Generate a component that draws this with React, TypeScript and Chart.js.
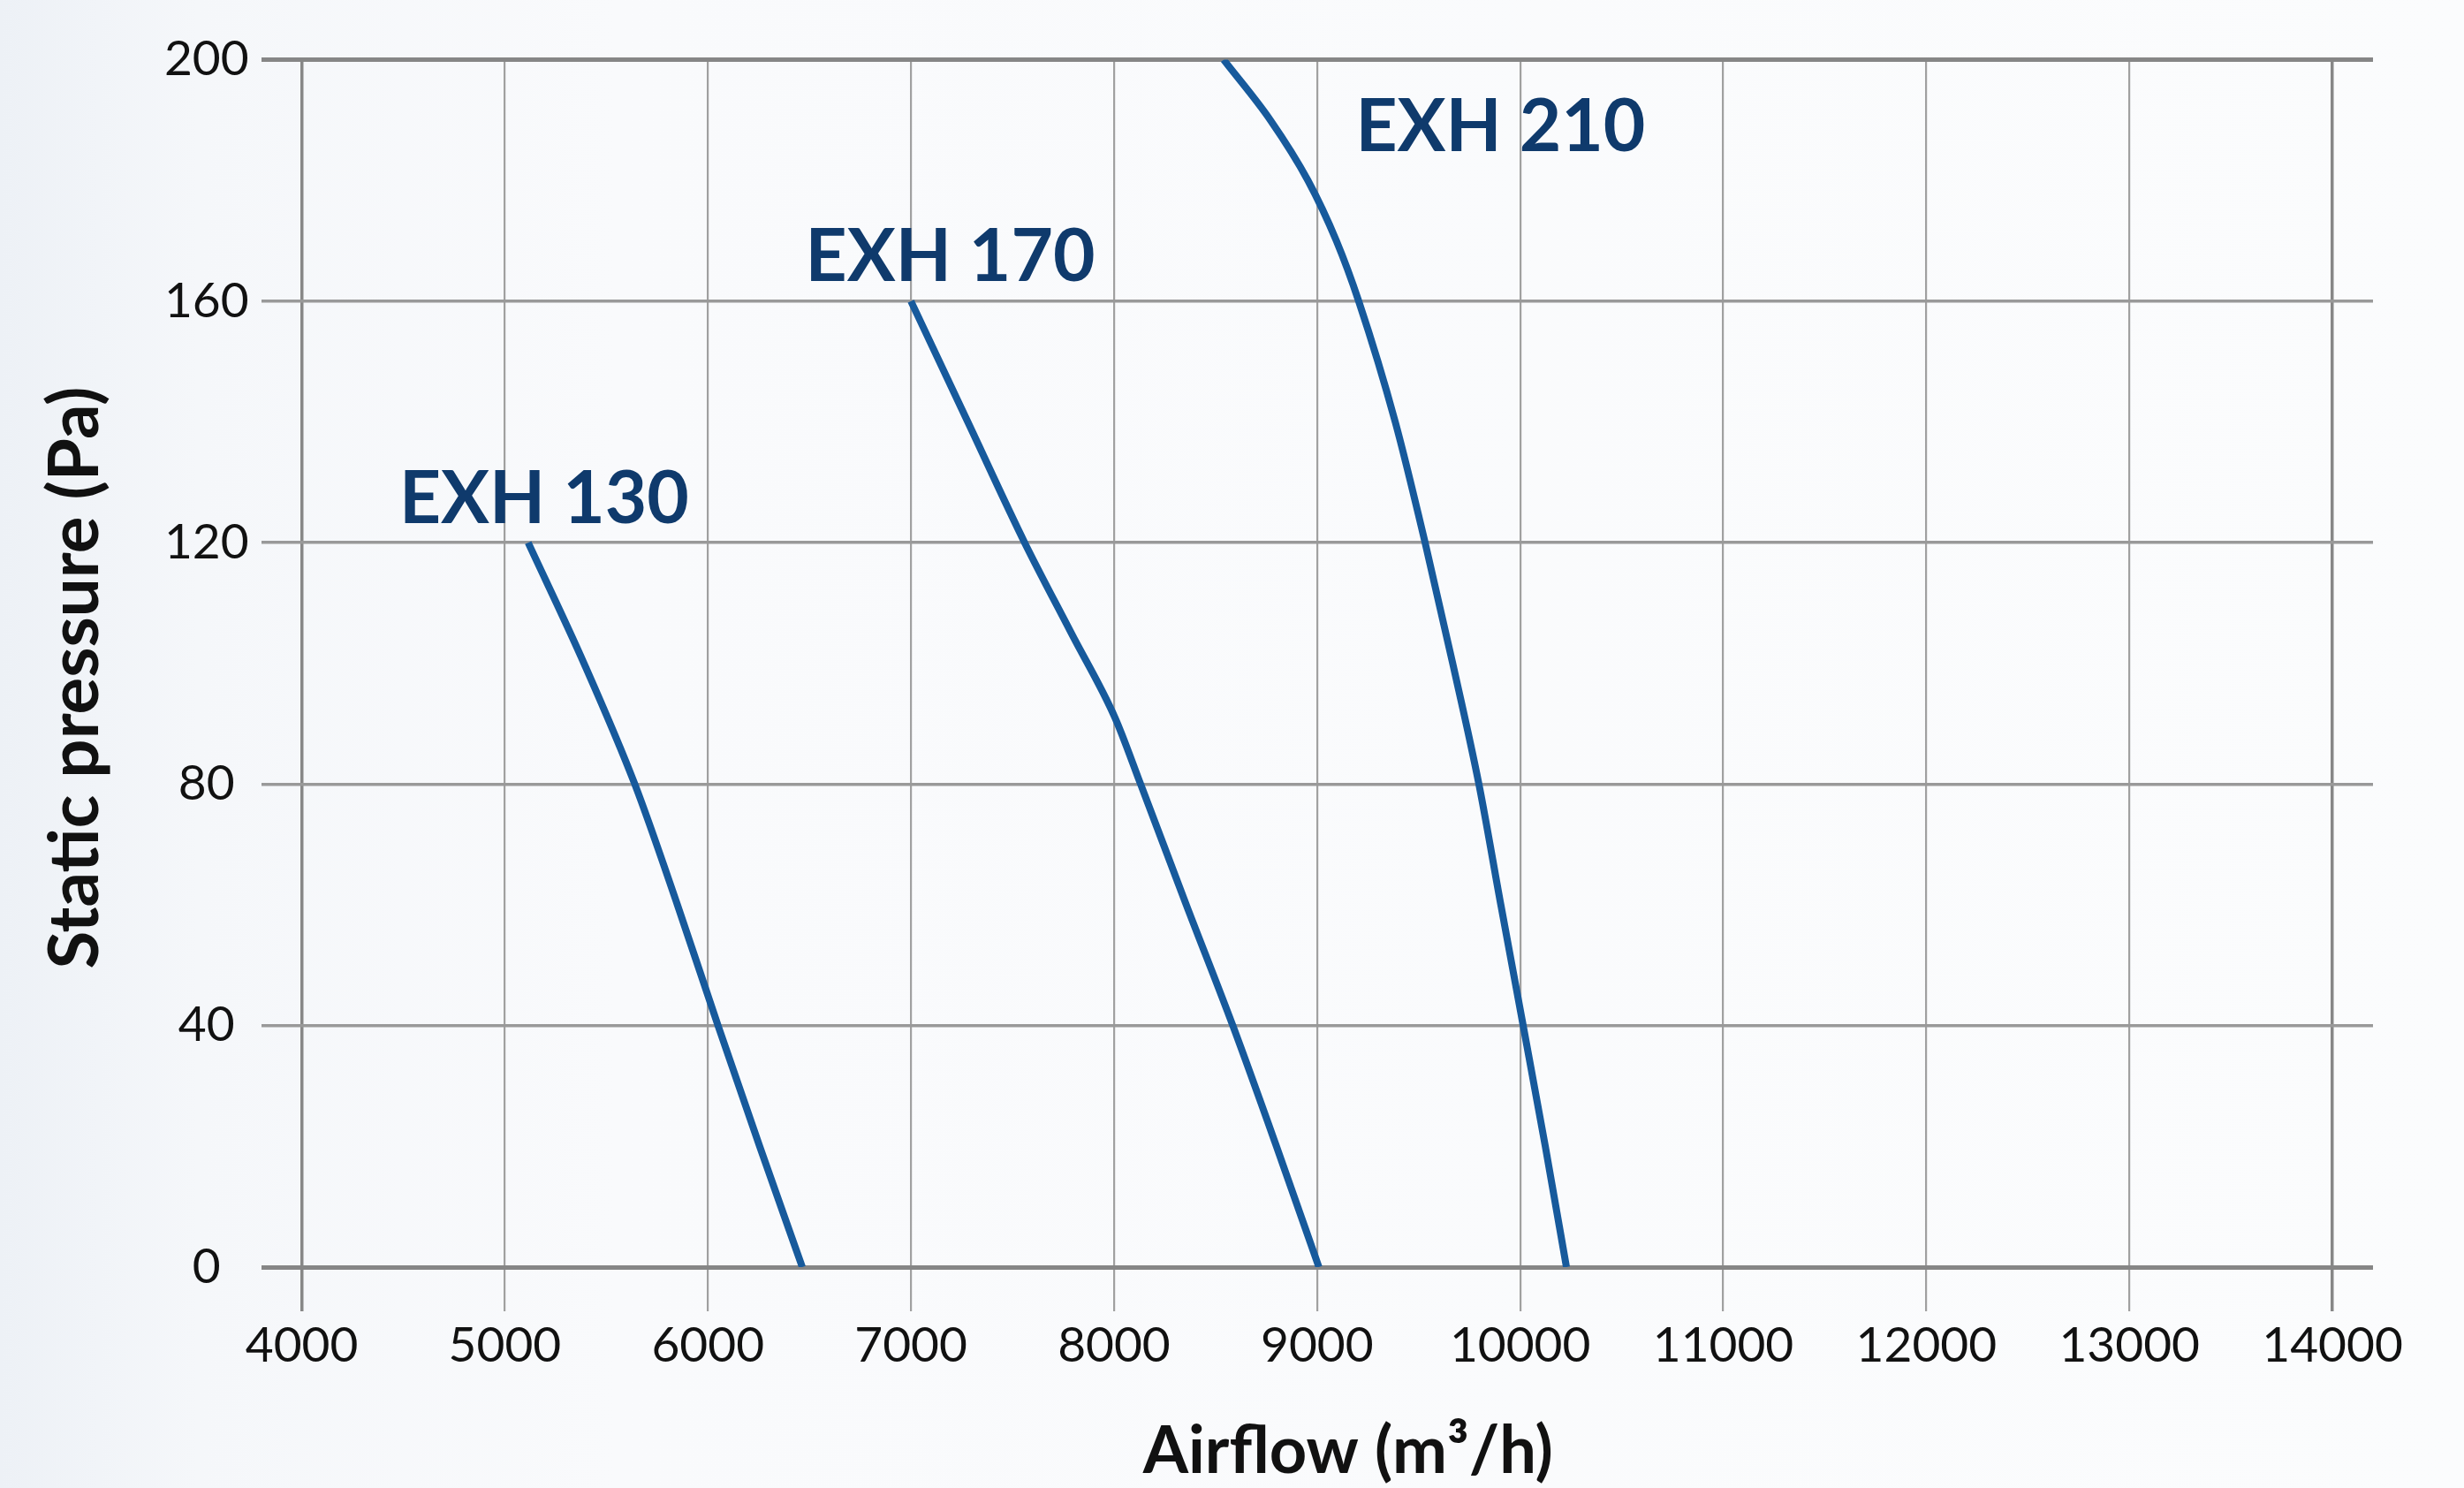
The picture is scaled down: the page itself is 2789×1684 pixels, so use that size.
import React, { useEffect, useRef } from "react";
import { Chart, registerables } from "chart.js";

Chart.register(...registerables);

// ---- data ----
const seriesNames = ["EXH 130", "EXH 170", "EXH 210"];

const exh130Flow = [5115, 5390, 5640, 5850, 6050, 6255, 6465];
const exh130Pressure = [120, 100, 80, 60, 40, 20, 0];

const exh170Flow = [7000, 7280, 7560, 7790, 8005, 8131, 8356, 8585, 8800, 9009];
const exh170Pressure = [160, 140, 120, 105, 91, 80, 60, 40, 20, 0];

const exh210Flow = [8540, 8770, 8955, 9095, 9205, 9385, 9532, 9668, 9797, 9905, 10015, 10124, 10228];
const exh210Pressure = [200, 190, 180, 170, 160, 140, 120, 100, 80, 60, 40, 20, 0];

const xTickValues = [4000, 5000, 6000, 7000, 8000, 9000, 10000, 11000, 12000, 13000, 14000];
const yTickValues = [0, 40, 80, 120, 160, 200];

// label anchors (left edge / baseline) in data units
const labelFlow = [4480, 6480, 9190];
const labelPressure = [123.3, 163.3, 184.9];

const xTitle = "Airflow (m³/h)";
const yTitle = "Static pressure (Pa)";

const W = 2789;
const H = 1684;

const LINE_BLUE = "#175a9c";
const LABEL_NAVY = "#0f3a6c";

function pts(xs: number[], ys: number[]) {
  return xs.map((x, i) => ({ x, y: ys[i] }));
}

export default function App() {
  const canvasRef = useRef<HTMLCanvasElement | null>(null);

  useEffect(() => {
    let chart: Chart | null = null;
    let cancelled = false;

    const labelsPlugin = {
      id: "curveLabels",
      afterDatasetsDraw(c: any) {
        const { ctx, scales } = c;
        ctx.save();
        ctx.fillStyle = LABEL_NAVY;
        ctx.font = "bold 82px Lato";
        ctx.textAlign = "left";
        ctx.textBaseline = "alphabetic";
        seriesNames.forEach((name, i) => {
          const px = scales.x.getPixelForValue(labelFlow[i]);
          const py = scales.y.getPixelForValue(labelPressure[i]);
          ctx.fillText(name, px, py);
        });
        ctx.restore();
      },
      afterDraw(c: any) {
        const { ctx, chartArea } = c;
        ctx.save();
        ctx.fillStyle = "#111111";
        ctx.textAlign = "center";
        ctx.textBaseline = "alphabetic";
        // x title
        ctx.font = "bold 74px Lato";
        const cx = (chartArea.left + chartArea.right) / 2 + 35;
        ctx.fillText(xTitle, cx, 1667);
        // y title
        ctx.font = "bold 78px Lato";
        ctx.translate(111, 767);
        ctx.rotate(-Math.PI / 2);
        ctx.fillText(yTitle, 0, 0);
        ctx.restore();
      },
    };

    const create = () => {
      if (cancelled || !canvasRef.current) return;
      chart = new Chart(canvasRef.current, {
        type: "line",
        data: {
          datasets: [
            { label: seriesNames[0], data: pts(exh130Flow, exh130Pressure) },
            { label: seriesNames[1], data: pts(exh170Flow, exh170Pressure) },
            { label: seriesNames[2], data: pts(exh210Flow, exh210Pressure) },
          ].map((d) => ({
            ...d,
            borderColor: LINE_BLUE,
            borderWidth: 8,
            pointRadius: 0,
            fill: false,
            cubicInterpolationMode: "monotone" as const,
            borderCapStyle: "butt" as const,
            borderJoinStyle: "round" as const,
          })),
        },
        options: {
          animation: false,
          responsive: false,
          devicePixelRatio: 1,
          layout: { padding: { top: 67.6, right: 103, left: 0, bottom: 0 } },
          plugins: {
            legend: { display: false },
            tooltip: { enabled: false },
            title: { display: false },
          },
          scales: {
            x: {
              type: "linear",
              min: 3800,
              max: 14200,
              afterBuildTicks: (scale: any) => {
                scale.ticks = xTickValues.map((v) => ({ value: v }));
              },
              afterFit: (scale: any) => {
                scale.height = 250;
              },
              border: { display: false },
              grid: {
                drawTicks: true,
                tickLength: 50,
                color: (ctx: any) =>
                  ctx.tick && (ctx.tick.value === 4000 || ctx.tick.value === 14000) ? "#878787" : "#a0a0a0",
                lineWidth: (ctx: any) =>
                  ctx.tick && (ctx.tick.value === 4000 || ctx.tick.value === 14000) ? 3.5 : 2.2,
              },
              ticks: {
                autoSkip: false,
                maxRotation: 0,
                padding: 6,
                color: "#111111",
                font: { family: "Lato", size: 55 },
                callback: (v: any) => String(v),
              },
              title: { display: false },
            },
            y: {
              type: "linear",
              min: 0,
              max: 200,
              afterBuildTicks: (scale: any) => {
                scale.ticks = yTickValues.map((v) => ({ value: v }));
              },
              afterFit: (scale: any) => {
                scale.width = 295.6;
              },
              border: { display: false },
              grid: {
                drawTicks: false,
                color: (ctx: any) =>
                  ctx.tick && (ctx.tick.value === 0 || ctx.tick.value === 200) ? "#868686" : "#999999",
                lineWidth: (ctx: any) =>
                  ctx.tick && (ctx.tick.value === 0 || ctx.tick.value === 200) ? 5 : 3.4,
              },
              ticks: {
                padding: 14,
                crossAlign: "center",
                color: "#111111",
                font: { family: "Lato", size: 55 },
                callback: (v: any) => String(v),
              },
              title: { display: false },
            },
          },
        },
        plugins: [labelsPlugin],
      });
    };

    const fontsReady = (document as any).fonts
      ? Promise.all([
          (document as any).fonts.load("bold 82px Lato"),
          (document as any).fonts.load("55px Lato"),
        ]).catch(() => null)
      : Promise.resolve(null);
    fontsReady.then(create);

    return () => {
      cancelled = true;
      if (chart) chart.destroy();
    };
  }, []);

  return (
    <div
      style={{
        position: "fixed",
        left: 0,
        top: 0,
        width: W,
        height: H,
        overflow: "hidden",
        background:
          "linear-gradient(to right, #edf1f6 0%, #f5f7fa 8%, #f9fafc 25%, #fbfcfd 100%)",
      }}
    >
      <canvas
        ref={canvasRef}
        width={W}
        height={H}
        style={{ display: "block", width: W, height: H }}
      />
    </div>
  );
}
